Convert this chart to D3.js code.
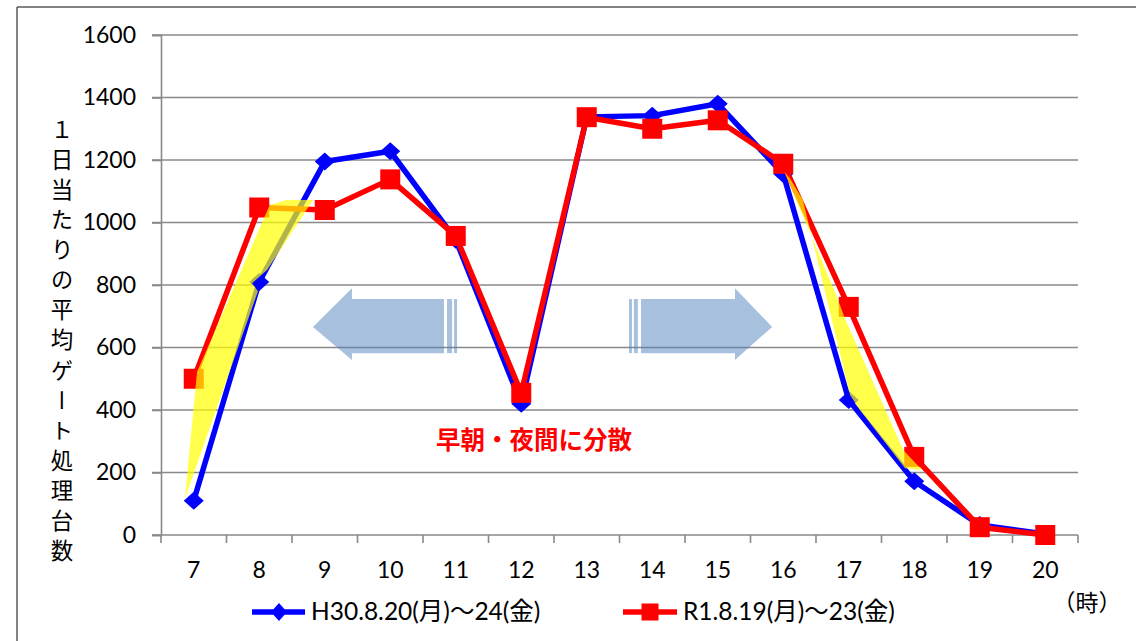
<!DOCTYPE html>
<html>
<head>
<meta charset="utf-8">
<script src="https://cdn.jsdelivr.net/npm/d3@7/dist/d3.min.js"></script>
<style>
  html, body { margin: 0; padding: 0; background: #fff; }
  svg { display: block; }
</style>
</head>
<body>
<svg id="chart" width="1136" height="641"></svg>
<script>
// ---- data ----
const hours = [7, 8, 9, 10, 11, 12, 13, 14, 15, 16, 17, 18, 19, 20];
const seriesH30 = [110, 810, 1195, 1228, 945, 420, 1338, 1342, 1380, 1155, 432, 172, 32, 3];
const seriesR1  = [500, 1048, 1040, 1138, 957, 455, 1337, 1300, 1327, 1188, 730, 250, 25, 0];
const yTicks = [0, 200, 400, 600, 800, 1000, 1200, 1400, 1600];
const legendLabels = ["H30.8.20(月)～24(金)", "R1.8.19(月)～23(金)"];
const yTitle = "１日当たりの平均ゲート処理台数";
const xUnit = "（時）";
const noteText = "早朝・夜間に分散";
// highlight areas (hour, value)
const shadeMorning = [[6.866,118],[7.05,522],[8.16,1056],[8.42,1072],[8.82,1072],[8.12,848],[7.89,806],[7.98,780]];
const shadeEvening = [[16.02,1162],[16.82,762],[16.94,694],[17.83,272],[18.12,208],[17.86,214],[17.17,400],[17.02,448],[16.30,1072],[16.10,1142]];
// arrows (hour, value)
const arrowLeft  = {tip: 8.82, headBase: 9.415, bodyEnd: 10.82, stripes: [[10.867,10.944],[10.974,11.02]]};
const arrowRight = {tip: 15.83, headBase: 15.263, bodyEnd: 13.828, stripes: [[13.72,13.78],[13.645,13.69]]};
const arrowV = {mid: 666, headTop: 790, headBot: 560, bodyTop: 755, bodyBot: 582};

// ---- scales ----
const svg = d3.select("#chart");
const x = d3.scaleBand().domain(hours).range([161, 1078]);
const xc = h => x(h) + x.bandwidth() / 2;
const xh = d3.scaleLinear().domain([6.5, 20.5]).range([161, 1078]);
const y = d3.scaleLinear().domain([0, 1600]).range([535, 35]);

const latin = "Lato, 'Noto Sans CJK JP', sans-serif";
const cjk = "'Noto Sans CJK JP', sans-serif";

// frame
svg.append("line").attr("x1", 17).attr("x2", 1136).attr("y1", 7).attr("y2", 7)
  .attr("stroke", "#595959").attr("stroke-width", 1.5);
svg.append("line").attr("x1", 17).attr("x2", 17).attr("y1", 7).attr("y2", 641)
  .attr("stroke", "#595959").attr("stroke-width", 1.5);

// grid
svg.append("g").selectAll("line").data(yTicks.filter(d => d > 0)).join("line")
  .attr("x1", 152).attr("x2", 1078)
  .attr("y1", d => y(d)).attr("y2", d => y(d))
  .attr("stroke", "#898989").attr("stroke-width", 1.6);

// y axis
const yAxis = svg.append("g").attr("transform", "translate(161,0)")
  .call(d3.axisLeft(y).tickValues(yTicks).tickFormat(d3.format("d")).tickSize(9).tickPadding(16));
yAxis.select(".domain").attr("stroke", "#898989").attr("stroke-width", 1.6);
yAxis.selectAll(".tick line").attr("stroke", "#898989").attr("stroke-width", 1.6);
yAxis.selectAll("text").attr("font-family", latin).attr("font-size", 23).attr("fill", "#000");

// x axis
svg.append("line").attr("x1", 152).attr("x2", 1078).attr("y1", y(0)).attr("y2", y(0))
  .attr("stroke", "#898989").attr("stroke-width", 1.6);
svg.append("g").selectAll("line").data(hours.map(h => x(h)).concat([x.range()[1]])).join("line")
  .attr("x1", d => d).attr("x2", d => d).attr("y1", y(0)).attr("y2", y(0) + 8)
  .attr("stroke", "#898989").attr("stroke-width", 1.6);
svg.append("g").selectAll("text").data(hours).join("text")
  .attr("x", d => xc(d)).attr("y", 578)
  .attr("text-anchor", "middle").attr("font-family", latin).attr("font-size", 23)
  .text(d => d);

// y title (vertical)
svg.append("text")
  .attr("x", 62).attr("y", 118)
  .style("writing-mode", "vertical-rl")
  .attr("font-family", cjk).attr("font-size", 22.5)
  .attr("letter-spacing", 7.6)
  .text(yTitle);

// x unit
svg.append("text").attr("x", 1087).attr("y", 611)
  .attr("text-anchor", "middle").attr("font-family", cjk).attr("font-size", 23)
  .text(xUnit);

// arrows
const arrowFill = "#4f81bd", arrowOp = 0.5;
function drawArrow(a) {
  const pts = [
    [xh(a.tip), y(arrowV.mid)],
    [xh(a.headBase), y(arrowV.headTop)],
    [xh(a.headBase), y(arrowV.bodyTop)],
    [xh(a.bodyEnd), y(arrowV.bodyTop)],
    [xh(a.bodyEnd), y(arrowV.bodyBot)],
    [xh(a.headBase), y(arrowV.bodyBot)],
    [xh(a.headBase), y(arrowV.headBot)]
  ];
  svg.append("path").attr("d", d3.line()(pts) + "Z")
    .attr("fill", arrowFill).attr("fill-opacity", arrowOp);
  a.stripes.forEach(s => {
    const x0 = Math.min(xh(s[0]), xh(s[1])), x1 = Math.max(xh(s[0]), xh(s[1]));
    svg.append("rect").attr("x", x0).attr("width", x1 - x0)
      .attr("y", y(arrowV.bodyTop)).attr("height", y(arrowV.bodyBot) - y(arrowV.bodyTop))
      .attr("fill", arrowFill).attr("fill-opacity", arrowOp);
  });
}
drawArrow(arrowLeft);
drawArrow(arrowRight);

// lines
const lineGen = d3.line().x((d, i) => xc(hours[i])).y(d => y(d));
const diamond = (cx, cy, w, h) => `M${cx},${cy - h}L${cx + w},${cy}L${cx},${cy + h}L${cx - w},${cy}Z`;

svg.append("path").datum(seriesH30).attr("d", lineGen)
  .attr("fill", "none").attr("stroke", "#0000ff").attr("stroke-width", 5.5).attr("stroke-linejoin", "round");
svg.append("g").selectAll("path").data(seriesH30).join("path")
  .attr("d", (d, i) => diamond(xc(hours[i]), y(d), 10, 9)).attr("fill", "#0000ff");

svg.append("path").datum(seriesR1).attr("d", lineGen)
  .attr("fill", "none").attr("stroke", "#ff0000").attr("stroke-width", 5.5).attr("stroke-linejoin", "round");
svg.append("g").selectAll("rect").data(seriesR1).join("rect")
  .attr("x", (d, i) => xc(hours[i]) - 10).attr("y", d => y(d) - 10)
  .attr("width", 20).attr("height", 20).attr("fill", "#ff0000");

// shaded areas
[shadeMorning, shadeEvening].forEach(poly => {
  svg.append("path").attr("d", d3.line().x(p => xh(p[0])).y(p => y(p[1]))(poly) + "Z")
    .attr("fill", "#ffff00").attr("fill-opacity", 0.7);
});

// note
svg.append("text").attr("x", xh(12.195)).attr("y", y(310))
  .attr("text-anchor", "middle").attr("dominant-baseline", "central")
  .attr("font-family", cjk).attr("font-weight", "bold").attr("font-size", 24.5)
  .attr("fill", "#ff0000").text(noteText);

// legend
const lg = svg.append("g");
lg.append("line").attr("x1", 252).attr("x2", 305).attr("y1", 612).attr("y2", 612)
  .attr("stroke", "#0000ff").attr("stroke-width", 5.5);
lg.append("path").attr("d", diamond(279, 612, 8, 9)).attr("fill", "#0000ff");
lg.append("text").attr("x", 311).attr("y", 620).attr("font-family", latin).attr("font-size", 24.5)
  .text(legendLabels[0]);
lg.append("line").attr("x1", 623).attr("x2", 677).attr("y1", 612).attr("y2", 612)
  .attr("stroke", "#ff0000").attr("stroke-width", 5.5);
lg.append("rect").attr("x", 641.5).attr("y", 603.5).attr("width", 17).attr("height", 17).attr("fill", "#ff0000");
lg.append("text").attr("x", 683).attr("y", 620).attr("font-family", latin).attr("font-size", 24.5)
  .text(legendLabels[1]);
</script>
</body>
</html>
